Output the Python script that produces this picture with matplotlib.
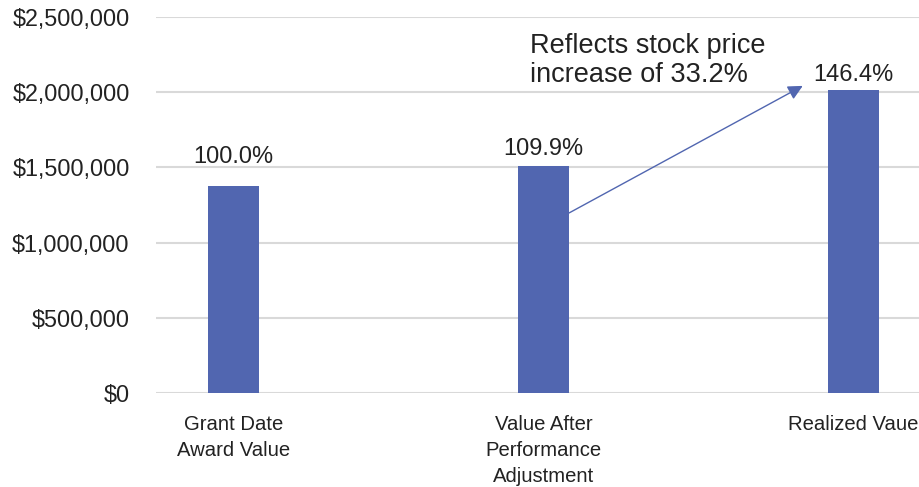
import matplotlib
matplotlib.use("Agg")
import matplotlib.pyplot as plt
from matplotlib.ticker import FuncFormatter

categories = ["Grant Date\nAward Value", "Value After\nPerformance\nAdjustment", "Realized Vaue"]
values = [1375000, 1511000, 2013000]
pct_labels = ["100.0%", "109.9%", "146.4%"]
annotation_text = "Reflects stock price\nincrease of 33.2%"
yticks = [0, 500000, 1000000, 1500000, 2000000, 2500000]

plt.rcParams['font.family'] = ['Liberation Sans', 'DejaVu Sans']

W, H = 919, 487
fig = plt.figure(figsize=(W / 100, H / 100), dpi=100)
ax = fig.add_axes([156 / W, 1 - 393 / H, 1 - 156 / W, (393 - 17) / H])

bar_color = "#5166b0"
x = list(range(len(categories)))
bw = 51 / 310
ax.bar(x, values, width=bw, color=bar_color, zorder=3)

ax.set_xlim(-0.25, 2.211)
ax.set_ylim(0, 2500000)
ax.set_yticks(yticks)
ax.yaxis.set_major_formatter(FuncFormatter(lambda v, p: "${:,.0f}".format(v)))
ax.grid(axis='y', color="#d9d9d9", linewidth=1.5, zorder=0)
for s in ax.spines.values():
    s.set_visible(False)
ax.tick_params(axis='y', length=0, pad=19, labelsize=16.8, labelcolor="#222222")
ax.set_xticks(x)
ax.set_xticklabels(categories, fontsize=14.6, color="#222222", linespacing=1.45)
ax.tick_params(axis='x', length=0, pad=16)

label_offsets = [16.5, 7.5, 7.0]
for xi, v, lab, off in zip(x, values, pct_labels, label_offsets):
    ax.annotate(lab, (xi, v), xytext=(0, off), textcoords='offset points',
                ha='center', va='baseline', fontsize=17, color="#222222")

# arrow from bar 2 to bar 3
ax.annotate("", xy=(1.836, 2042000), xytext=(1 + bw / 2, 1197000),
            arrowprops=dict(arrowstyle='-|>', color=bar_color, lw=1.0,
                            mutation_scale=22, shrinkA=0, shrinkB=0))
fig.text(530 / W, 1 - 82 / H, annotation_text, fontsize=19.5, color="#222222",
         ha='left', va='baseline', linespacing=1.15)

fig.savefig("out.png", dpi=100)
